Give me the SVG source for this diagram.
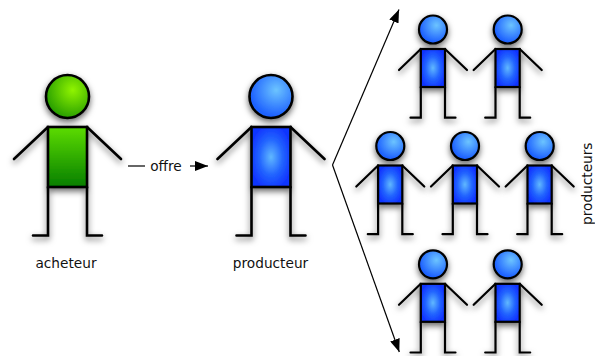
<svg xmlns="http://www.w3.org/2000/svg" width="595" height="356" viewBox="0 0 595 356">
<style>
.lbl{font-family:"DejaVu Sans",sans-serif;font-size:13.700px;fill:#111}
.conn{fill:none;stroke:#000;stroke-width:1.200}
.ln{fill:none;stroke:#000;stroke-linecap:round}
.out{stroke:#000}
</style>
<defs>
<radialGradient id="bh" cx="0.62" cy="0.35" r="0.6"><stop offset="0" stop-color="#6cc4ff"/><stop offset="1" stop-color="#1e62ff"/></radialGradient>
<radialGradient id="bb" cx="0.5" cy="0.5" r="0.55"><stop offset="0" stop-color="#60b8ff"/><stop offset="0.55" stop-color="#2264ff"/><stop offset="1" stop-color="#1034ff"/></radialGradient>
<radialGradient id="gh" cx="0.62" cy="0.35" r="0.65"><stop offset="0" stop-color="#90f400"/><stop offset="1" stop-color="#2aa000"/></radialGradient>
<linearGradient id="gb" x1="0" y1="0" x2="0" y2="1"><stop offset="0" stop-color="#5cdc00"/><stop offset="1" stop-color="#067e00"/></linearGradient>
<filter id="sh" x="-30%" y="-30%" width="160%" height="160%"><feDropShadow dx="0" dy="3" stdDeviation="3" flood-color="#000" flood-opacity="0.6"/></filter>
<marker id="ah" markerUnits="userSpaceOnUse" markerWidth="14" markerHeight="10" refX="13" refY="5" orient="auto"><path d="M0 0L13 5L0 10z" fill="#000"/></marker>
<g id="big-limbs" class="ln" stroke-width="2.600"><path d="M48 127L14 159M87 127L121 159M48 187V235.500H33M87 187V235.500H102"/></g>
<g id="small-limbs" class="ln" stroke-width="2.200"><path d="M420.800 49L399 70M445 49L467 70M420.800 87V117.700H410.500M445 87V117.700H455.500"/></g>
<g id="small" filter="url(#sh)">
<use href="#small-limbs"/>
<rect x="420.800" y="49" width="24.200" height="38" fill="url(#bb)" class="out" stroke-width="2.200"/>
<circle cx="433" cy="29.500" r="14" fill="url(#bh)" class="out" stroke-width="2.200"/>
</g>
</defs>
<g id="connectors">
<path class="conn" d="M332.500 165L399 9.500" marker-end="url(#ah)"/>
<path class="conn" d="M332.500 165L399.300 352" marker-end="url(#ah)"/>
<path d="M128 166H145" stroke="#000" stroke-width="1.200"/>
<path d="M190 166H208" stroke="#000" stroke-width="1.200" marker-end="url(#ah)"/>
</g>
<g id="acheteur">
<g filter="url(#sh)">
<use href="#big-limbs"/>
<rect x="48" y="127" width="39" height="60" fill="url(#gb)" class="out" stroke-width="2.600"/>
<circle cx="67.500" cy="96.500" r="21.500" fill="url(#gh)" class="out" stroke-width="2.600"/>
</g>
<text class="lbl" x="66" y="267.500" text-anchor="middle">acheteur</text>
</g>
<g id="producteur">
<g filter="url(#sh)">
<use href="#big-limbs" x="203.500"/>
<rect x="251.500" y="127" width="39" height="60" fill="url(#bb)" class="out" stroke-width="2.600"/>
<circle cx="271" cy="96.500" r="21.500" fill="url(#bh)" class="out" stroke-width="2.600"/>
</g>
<text class="lbl" x="270.500" y="267.500" text-anchor="middle">producteur</text>
</g>
<text class="lbl" x="166" y="170.500" text-anchor="middle">offre</text>
<g id="p1"><use href="#small"/></g>
<g id="p2"><use href="#small" x="74.700"/></g>
<g id="p3"><use href="#small" x="-42.700" y="116.500"/></g>
<g id="p4"><use href="#small" x="32" y="116.500"/></g>
<g id="p5"><use href="#small" x="106.700" y="116.500"/></g>
<g id="p6"><use href="#small" y="234.800"/></g>
<g id="p7"><use href="#small" x="74.700" y="234.800"/></g>
<text class="lbl" transform="translate(591.500 225) rotate(-90)">producteurs</text>
</svg>
